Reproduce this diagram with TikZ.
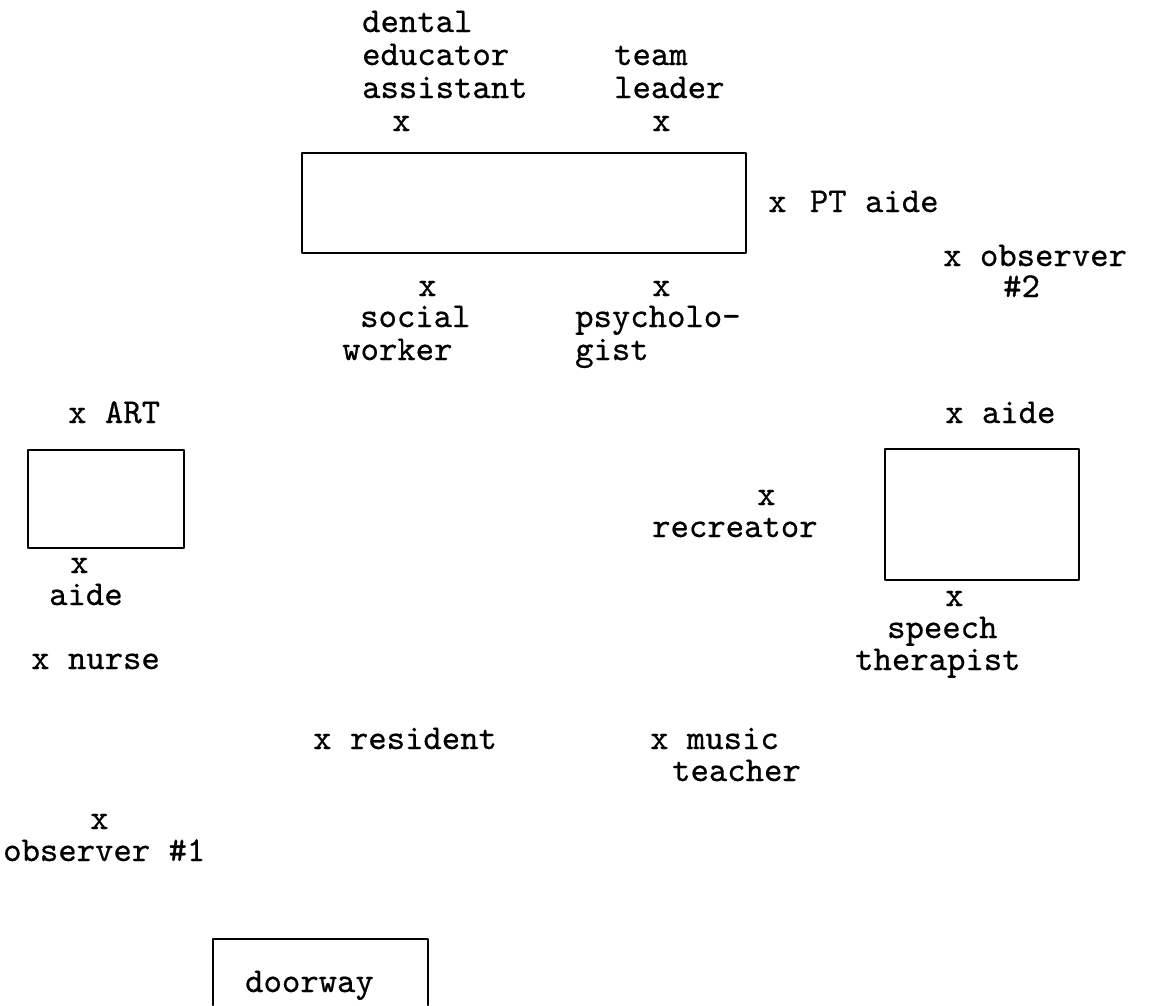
\documentclass[tikz,border=0pt]{standalone}
\usepackage{fontspec}
\newfontfamily\typewriter{lmmono10-regular.otf}[FakeBold=0.6]
\begin{document}
\begin{tikzpicture}[x=1pt,y=-1pt,
  lbl/.style={font=\typewriter\fontsize{35}{33}\selectfont, inner sep=0pt,
    text height=0.6em, text depth=0.1em, anchor=base west},
  table/.style={line width=2.4pt, line join=round, line cap=round}]
\useasboundingbox[fill=white] (0,0) rectangle (1153,1005);

% central conference table and the people seated round it
\draw[table] (302,153) rectangle (746,253);
\node[lbl] (dental)    at (362,32)  {dental};
\node[lbl] (educator)  at (362,65)  {educator};
\node[lbl] (assistant) at (362,98)  {assistant};
\node[lbl] (xdea)      at (392,131) {x};
\node[lbl] (team)      at (614,65)  {team};
\node[lbl] (leader)    at (614,98)  {leader};
\node[lbl] (xtl)       at (652,131) {x};
\node[lbl] (ptaide)    at (768,212) {x\kern5pt\ PT aide};
\node[lbl] (obs2)      at (943,266) {x observer};
\node[lbl] (obs2n)     at (1003,297) {\#2};
\node[lbl] (xsw)       at (418,296) {x};
\node[lbl] (social)    at (360,327) {social};
\node[lbl] (worker)    at (342,360) {worker};
\node[lbl] (xpsy)      at (652,296) {x};
\node[lbl] (psycholo)  at (575,327) {psycholo-};
\node[lbl] (gist)      at (575,360) {gist};

% left-hand table
\draw[table] (28,450) rectangle (184,548);
\node[lbl] (art)       at (68,423)  {x ART};
\node[lbl] (xaideL)    at (70,573)  {x};
\node[lbl] (aideL)     at (49,605)  {aide};
\node[lbl] (nurse)     at (31,669)  {x nurse};

% right-hand table
\draw[table] (885,449) rectangle (1079,580);
\node[lbl] (aideR)     at (945,423) {x aide};
\node[lbl] (xrec)      at (757,505) {x};
\node[lbl] (recreator) at (652,537) {recreator};
\node[lbl] (xst)       at (945,606) {x};
\node[lbl] (speech)    at (887,638) {speech};
\node[lbl] (therapist) at (855,670) {therapist};

% open floor
\node[lbl] (resident)  at (313,749) {x resident};
\node[lbl] (music)     at (650,749) {x music};
\node[lbl] (teacher)   at (672,781) {teacher};
\node[lbl] (xobs1)     at (90,829)  {x};
\node[lbl] (obs1)      at (3,861)   {observer \#1};

% doorway, open towards the bottom edge
\coordinate (dl) at (213,1005);
\coordinate (dr) at (428,1005);
\draw[table] (dl) -- (213,939) -- (428,939) -- (dr);
\node[lbl] (doorway)   at (245,992) {doorway};
\end{tikzpicture}
\end{document}
